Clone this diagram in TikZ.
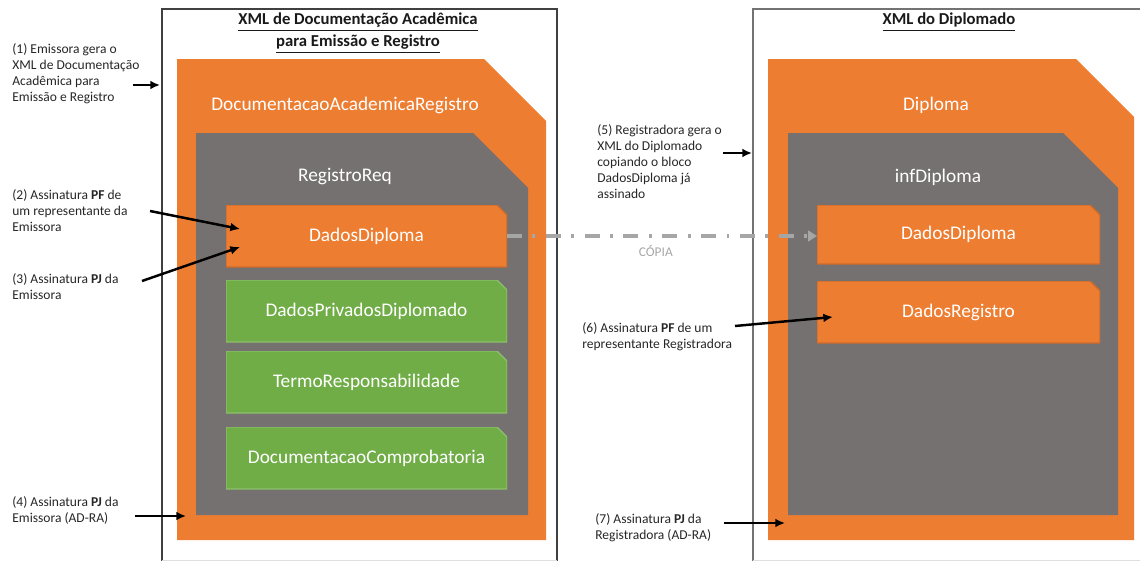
\documentclass[tikz,border=0pt]{standalone}
\usepackage{fontspec}
\setmainfont{Carlito}
\usetikzlibrary{arrows.meta,calc,positioning}

\definecolor{laranja}{HTML}{ED7D31}
\definecolor{laranjaesc}{HTML}{CF6A28}
\definecolor{cinza}{HTML}{767171}
\definecolor{verde}{HTML}{70AD47}
\definecolor{verdeclaro}{HTML}{8CC06A}
\definecolor{copia}{HTML}{A6A6A6}

\tikzset{
  cutbox/.style n args={4}{minimum width=#1*0.02cm, minimum height=#2*0.02cm,
    inner sep=0pt, outer sep=0pt,
    path picture={\filldraw[#4] (path picture bounding box.south west)
      -- (path picture bounding box.north west)
      -- ([xshift=-#3*0.02cm]path picture bounding box.north east)
      -- ([yshift=-#3*0.02cm]path picture bounding box.north east)
      -- (path picture bounding box.south east) -- cycle;}},
  rotulo/.style={text=white, font=\fontsize{11}{13}\selectfont},
  nota/.style={anchor=north west, align=left, inner sep=0pt, text=black!85,
    font=\fontsize{7.7}{9.1}\selectfont},
  titulo/.style={align=center, inner sep=0pt, text=black!90,
    font=\bfseries\fontsize{9.5}{12.5}\selectfont},
  sig/.style={-{Latex[length=5.5pt,width=5pt]}, line width=1.4pt},
  copiaseta/.style={-{Triangle[length=5pt,width=6pt]}, line width=2.1pt, copia,
    dash pattern=on 8.5pt off 6pt on 1.6pt off 6pt},
}

\begin{document}
\begin{tikzpicture}[x=0.02cm,y=-0.02cm]
  \useasboundingbox (0,0) rectangle (1140,561);

  % molduras
  \draw[line width=0.6pt, black!75] (162,561) -- (162,9) -- (557,9) -- (557,561);
  \draw[gray!25] (162,560) -- (557,560);
  \draw[line width=0.6pt, black!55] (753,561) -- (753,9) -- (1140,9);
  \draw[gray!25] (753,560) -- (1140,560);

  \node[titulo] (tituloA) at (358,33)
    {\underline{XML de Documentação Acadêmica}\\\underline{para Emissão e Registro}};
  \node[titulo] (tituloB) at (949,22) {\underline{XML do Diplomado}};

  % XML de documentacao academica
  \node[cutbox={369}{481}{62}{laranja,draw=none}] (docA) at (361.5,299.5) {};
  \node[rotulo] (docAl) at (345,105) {DocumentacaoAcademicaRegistro};
  \node[cutbox={332}{382}{55}{cinza,draw=none}] (reqA) at (362,324) {};
  \node[rotulo] (reqAl) at (345,177) {RegistroReq};
  \node[cutbox={281}{62}{10}{laranja,draw=laranjaesc,line width=0.8pt},rotulo]
    (ddA) at (366.5,236) {DadosDiploma};
  \foreach \nome/\y/\txt in {dpA/311/DadosPrivadosDiplomado,
      trA/382/TermoResponsabilidade, dcA/458/DocumentacaoComprobatoria} {
    \node[cutbox={281}{62}{10}{verde,draw=verdeclaro,line width=0.8pt},rotulo]
      (\nome) at (366.5,\y) {\txt};
  }

  % XML do diplomado
  \node[cutbox={366}{481}{58}{laranja,draw=none}] (dipB) at (951,299.5) {};
  \node[rotulo] (dipBl) at (936,105) {Diploma};
  \node[cutbox={330}{382}{55}{cinza,draw=none}] (infB) at (953,324) {};
  \node[rotulo] (infBl) at (938,177) {infDiploma};
  \node[cutbox={283}{59}{10}{laranja,draw=laranjaesc,line width=0.8pt},rotulo]
    (ddB) at (958.5,234.5) {DadosDiploma};
  \node[cutbox={283}{62}{10}{laranja,draw=laranjaesc,line width=0.8pt},rotulo]
    (drB) at (958.5,312) {DadosRegistro};

  \draw[copiaseta] (ddA.east) -- node[pos=0.48, below=4pt, inner sep=0pt, text=copia,
    font=\fontsize{7.6}{9.1}\selectfont] (copiaL) {CÓPIA} (ddA.east -| ddB.west);

  % notas
  \node[nota] (t1) at (12,43) {(1) Emissora gera o\\XML de Documentação\\Acadêmica para\\Emissão e Registro};
  \node[nota] (t2) at (12,189) {(2) Assinatura \textbf{PF} de\\um representante da\\Emissora};
  \node[nota] (t3) at (12,273) {(3) Assinatura \textbf{PJ} da\\Emissora};
  \node[nota] (t4) at (12,496) {(4) Assinatura \textbf{PJ} da\\Emissora (AD-RA)};
  \node[nota] (t5) at (597,124) {(5) Registradora gera o\\XML do Diplomado\\copiando o bloco\\DadosDiploma já\\assinado};
  \node[nota] (t6) at (582,322) {(6) Assinatura \textbf{PF} de um\\representante Registradora};
  \node[nota] (t7) at (595,513) {(7) Assinatura \textbf{PJ} da\\Registradora (AD-RA)};

  \coordinate (a1) at (133,85);  \coordinate (b1) at (160,85);
  \coordinate (a2) at (150,211);
  \coordinate (a3) at (142,281);
  \coordinate (a4) at (135,516); \coordinate (b4) at (186,516);
  \coordinate (a5) at (723,153); \coordinate (b5) at (752,153);
  \coordinate (a6) at (735,326);
  \coordinate (a7) at (724,523); \coordinate (b7) at (785,523);

  \draw[sig] (a1) -- (b1);
  \draw[sig] (a2) -- ($(ddA.west)+(14,-7)$);
  \draw[sig] (a3) -- ($(ddA.west)+(14,11)$);
  \draw[sig] (a4) -- (b4);
  \draw[sig] (a5) -- (b5);
  \draw[sig] (a6) -- ($(drB.west)+(16,5)$);
  \draw[sig] (a7) -- (b7);
\end{tikzpicture}
\end{document}
